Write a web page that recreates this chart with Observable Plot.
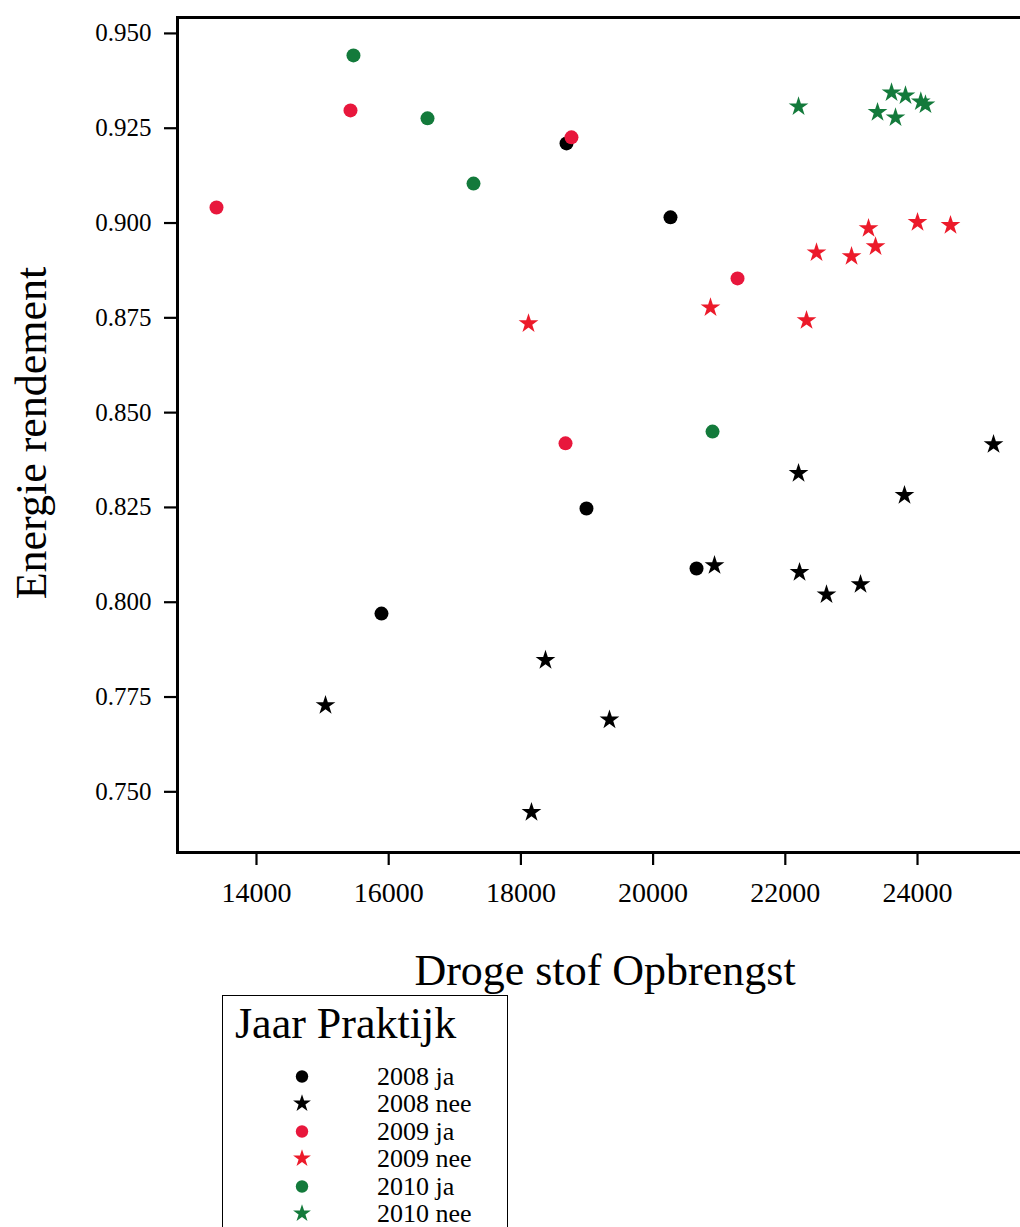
<!DOCTYPE html>
<html>
<head>
<meta charset="utf-8">
<script src="https://cdn.jsdelivr.net/npm/d3@7"></script>
<script src="https://cdn.jsdelivr.net/npm/@observablehq/plot@0.6"></script>
<style>
  html, body { margin: 0; padding: 0; background: white; overflow: hidden; }
  #wrap { position: relative; width: 1020px; height: 1227px; overflow: hidden; }
  #legend { position: absolute; left: 222px; top: 995px; width: 284px; height: 260px;
            border: 1.5px solid black; background: white; font-family: "Liberation Serif", serif; color: black; }
  #legend .title { position: absolute; left: 12px; top: 2px; font-size: 44px; line-height: 52px; white-space: nowrap; }
  #legend .row { position: absolute; left: 0; height: 27px; width: 284px; }
  #legend .row svg { position: absolute; left: 65px; top: 0; }
  #legend .row span { position: absolute; display: block; left: 154px; top: 0; height: 27px; font-size: 26px; line-height: 27px; white-space: nowrap; overflow: visible; }
</style>
</head>
<body>
<div id="wrap"><div id="chart"></div><div id="legend"></div></div>
<script>
// Categories (Jaar Praktijk)
const groups = ["2008 ja", "2008 nee", "2009 ja", "2009 nee", "2010 ja", "2010 nee"];

// Droge stof Opbrengst (x) and Energie rendement (y) per group
const x2008ja  = [18690, 20263, 15891, 18992, 20657];
const y2008ja  = [0.9210, 0.9015, 0.7970, 0.8247, 0.8089];

const x2008nee = [20929, 22200, 23803, 25150, 22215, 22623, 23138, 18372, 19340, 18160, 15044];
const y2008nee = [0.8097, 0.8340, 0.8282, 0.8416, 0.8079, 0.8020, 0.8047, 0.7847, 0.7690, 0.7446, 0.7728];

const x2009ja  = [13395, 15422, 18765, 21277, 18675];
const y2009ja  = [0.9041, 0.9297, 0.9226, 0.8854, 0.8419];

const x2009nee = [18115, 20868, 22321, 22472, 23002, 23259, 23365, 24000, 24499];
const y2009nee = [0.8735, 0.8777, 0.8743, 0.8922, 0.8912, 0.8986, 0.8938, 0.9002, 0.8994];

const x2010ja  = [15467, 16587, 17283, 20899];
const y2010ja  = [0.9442, 0.9276, 0.9104, 0.8450];

const x2010nee = [22200, 23607, 23818, 23395, 23667, 24050, 24120];
const y2010nee = [0.9307, 0.9344, 0.9336, 0.9292, 0.9278, 0.9320, 0.9312];

// Axis ticks
const xTicks = [14000, 16000, 18000, 20000, 22000, 24000];
const yTicks = [0.750, 0.775, 0.800, 0.825, 0.850, 0.875, 0.900, 0.925, 0.950];

// Axis titles
const xTitle = "Droge stof Opbrengst";
const yTitle = "Energie rendement";
const legendTitle = "Jaar Praktijk";

// Styles
const groupColors = ["#000000", "#000000", "#e8173c", "#ec1a2a", "#137a3b", "#137a3b"];
const groupSymbols = ["circle", "star", "circle", "star", "circle", "star"];

const xs = [x2008ja, x2008nee, x2009ja, x2009nee, x2010ja, x2010nee];
const ys = [y2008ja, y2008nee, y2009ja, y2009nee, y2010ja, y2010nee];
const rows = [];
groups.forEach((g, i) => xs[i].forEach((v, j) => rows.push({group: g, x: v, y: ys[i][j], isStar: groupSymbols[i] === "star"})));

const serif = "'Liberation Serif', 'Times New Roman', serif";

const chart = Plot.plot({
  width: 1020,
  height: 995,
  marginLeft: 177,
  marginTop: 17,
  marginRight: 0,
  marginBottom: 143,
  style: {fontFamily: serif, background: "white", color: "black", overflow: "hidden"},
  x: {domain: [12805, 25558]},
  y: {domain: [0.734, 0.9542]},
  color: {domain: groups, range: groupColors},
  symbol: {domain: groups, range: groupSymbols},
  marks: [
    Plot.axisX({ticks: xTicks, tickFormat: d3.format("d"), tickSize: 13, tickPadding: 17, fontSize: 28, strokeWidth: 2.2, label: null}),
    Plot.axisY({ticks: yTicks, tickFormat: d3.format(".3f"), tickSize: 13, tickPadding: 13, fontSize: 25, strokeWidth: 2.2, label: null}),
    Plot.frame({stroke: "black", strokeWidth: 3, insetRight: -20}),
    Plot.text([xTitle], {frameAnchor: "bottom", textAnchor: "middle", dx: 6, dy: 132, fontSize: 44, fill: "black"}),
    Plot.text([yTitle], {frameAnchor: "left", textAnchor: "middle", rotate: -90, dx: -146, dy: -2, fontSize: 44, fill: "black"}),
    Plot.dot(rows.filter(d => !d.isStar), {x: "x", y: "y", fill: "group", symbol: "group", r: 7, stroke: "none"}),
    Plot.dot(rows.filter(d => d.isStar), {x: "x", y: "y", fill: "group", symbol: "group", r: 6.2, stroke: "none"})
  ]
});
document.getElementById("chart").appendChild(chart);

// Legend (HTML below the SVG)
const legend = document.getElementById("legend");
const t = document.createElement("div");
t.className = "title";
t.textContent = legendTitle;
legend.appendChild(t);
const rowTop = [80, 107.5, 135, 162.5, 190, 217.5];
groups.forEach((g, i) => {
  const row = document.createElement("div");
  row.className = "row";
  row.style.top = (rowTop[i] - 13.5) + "px";
  const svg = d3.create("svg").attr("width", 28).attr("height", 27);
  const isStar = groupSymbols[i] === "star";
  const r = isStar ? 5.6 : 6.2;
  svg.append("path")
    .attr("transform", "translate(14,13.5)")
    .attr("d", d3.symbol(isStar ? d3.symbolStar : d3.symbolCircle, Math.PI * r * r)())
    .attr("fill", groupColors[i]);
  row.appendChild(svg.node());
  const s = document.createElement("span");
  s.textContent = g;
  row.appendChild(s);
  legend.appendChild(row);
});
</script>
</body>
</html>
